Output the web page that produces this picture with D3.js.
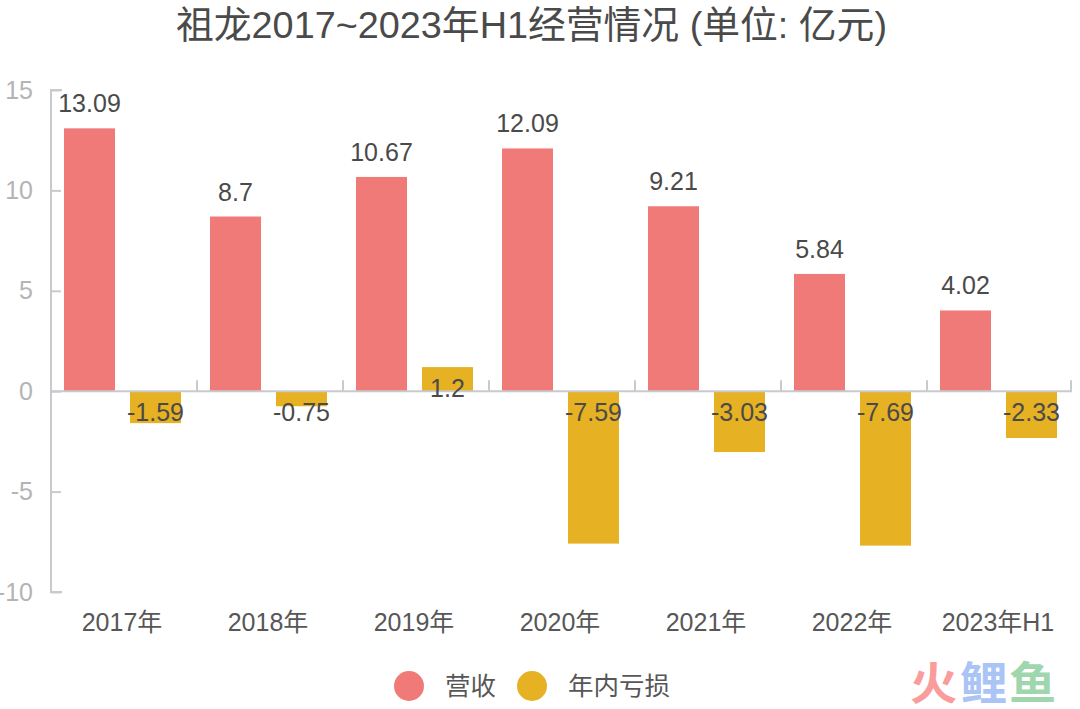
<!DOCTYPE html>
<html>
<head>
<meta charset="utf-8">
<script src="https://cdn.jsdelivr.net/npm/d3@7"></script>
<style>
html, body { margin: 0; padding: 0; background: #fff; }
text { font-family: "Liberation Sans", "Noto Sans CJK SC", sans-serif; }
</style>
</head>
<body>
<svg id="chart" width="1080" height="709"></svg>
<script>
var categories = ['2017年', '2018年', '2019年', '2020年', '2021年', '2022年', '2023年H1'];
var revenue = [13.09, 8.7, 10.67, 12.09, 9.21, 5.84, 4.02];
var loss = [-1.59, -0.75, 1.2, -7.59, -3.03, -7.69, -2.33];
var yTicks = [-10, -5, 0, 5, 10, 15];
var seriesNames = ['营收', '年内亏损'];
var seriesColors = ['#f07a78', '#e6b122'];
var axisColor = '#c8cacd';

var svg = d3.select('#chart');

var x = d3.scaleBand().domain(categories).range([51, 1073]);
var y = d3.scaleLinear().domain([-10, 15]).range([592, 90]);
var barWidth = 51;

svg.append('text')
    .attr('x', 531.5).attr('y', 38)
    .attr('text-anchor', 'middle')
    .attr('font-size', 37.8)
    .attr('fill', '#4a4a4a')
    .text('祖龙2017~2023年H1经营情况 (单位: 亿元)');

// y axis
var yAxis = svg.append('g')
    .attr('transform', 'translate(51,0)')
    .call(d3.axisLeft(y).tickValues(yTicks).tickSize(-10).tickPadding(18).tickFormat(function (d) { return String(d); }));
yAxis.selectAll('path, line').attr('stroke', axisColor).attr('stroke-width', 2);
yAxis.select('.domain').attr('d', 'M11,' + y(15) + 'H0V' + y(-10) + 'H11');
yAxis.selectAll('.tick text')
    .attr('font-size', 25)
    .attr('font-family', null)
    .attr('fill', '#b4b4b4');

// bars
function drawBars(values, color, offset) {
    svg.append('g').selectAll('rect')
        .data(values)
        .join('rect')
        .attr('x', function (d, i) { return x(categories[i]) + offset; })
        .attr('y', function (d) { return y(Math.max(d, 0)); })
        .attr('width', barWidth)
        .attr('height', function (d) { return Math.abs(y(d) - y(0)); })
        .attr('fill', color);
}
drawBars(revenue, seriesColors[0], 13);
drawBars(loss, seriesColors[1], 79);

// x axis, zero line with ticks
var xAxis = svg.append('g')
    .attr('transform', 'translate(0,' + y(0) + ')')
    .call(d3.axisTop(x).tickSize(0).tickFormat(''));
xAxis.select('.domain').attr('stroke', axisColor).attr('stroke-width', 2)
    .attr('d', 'M51,0H1071V-11');
xAxis.selectAll('.band-tick')
    .data(categories.slice(1))
    .join('line')
    .attr('class', 'band-tick')
    .attr('x1', function (d) { return x(d); })
    .attr('x2', function (d) { return x(d); })
    .attr('y1', 0).attr('y2', -11)
    .attr('stroke', axisColor).attr('stroke-width', 2);

// category labels
svg.append('g').selectAll('text')
    .data(categories)
    .join('text')
    .attr('x', function (d) { return x(d) + x.bandwidth() / 2 - 2; })
    .attr('y', 631)
    .attr('text-anchor', 'middle')
    .attr('font-size', 25)
    .attr('fill', '#575757')
    .text(function (d) { return d; });

// value labels
function drawLabels(values, offset, above) {
    svg.append('g').selectAll('text')
        .data(values)
        .join('text')
        .attr('x', function (d, i) { return x(categories[i]) + offset + barWidth / 2; })
        .attr('y', function (d) { return above ? y(d) - 16 : (d > 0 ? y(0) + 6 : y(0) + 30); })
        .attr('text-anchor', 'middle')
        .attr('font-size', 25)
        .attr('fill', '#4a4a4a')
        .text(function (d) { return d; });
}
drawLabels(revenue, 13, true);
drawLabels(loss, 79, false);

// legend
var legendX = [409, 532];
var legendTextX = [445, 568];
seriesNames.forEach(function (name, i) {
    svg.append('circle').attr('cx', legendX[i]).attr('cy', 686).attr('r', 15).attr('fill', seriesColors[i]);
    svg.append('text').attr('x', legendTextX[i]).attr('y', 695)
        .attr('font-size', 25.5).attr('fill', '#575757').text(name);
});

// watermark
var markChars = ['火', '鲤', '鱼'];
var markColors = ['#fb9c9c', '#a9c4f5', '#9fd6ad'];
var markX = [910, 960, 1009];
markChars.forEach(function (c, i) {
    svg.append('text')
        .attr('transform', 'translate(' + markX[i] + ',700) scale(1.05,1)')
        .attr('font-size', 45).attr('font-weight', 700)
        .attr('fill', markColors[i]).text(c);
});
</script>
</body>
</html>
